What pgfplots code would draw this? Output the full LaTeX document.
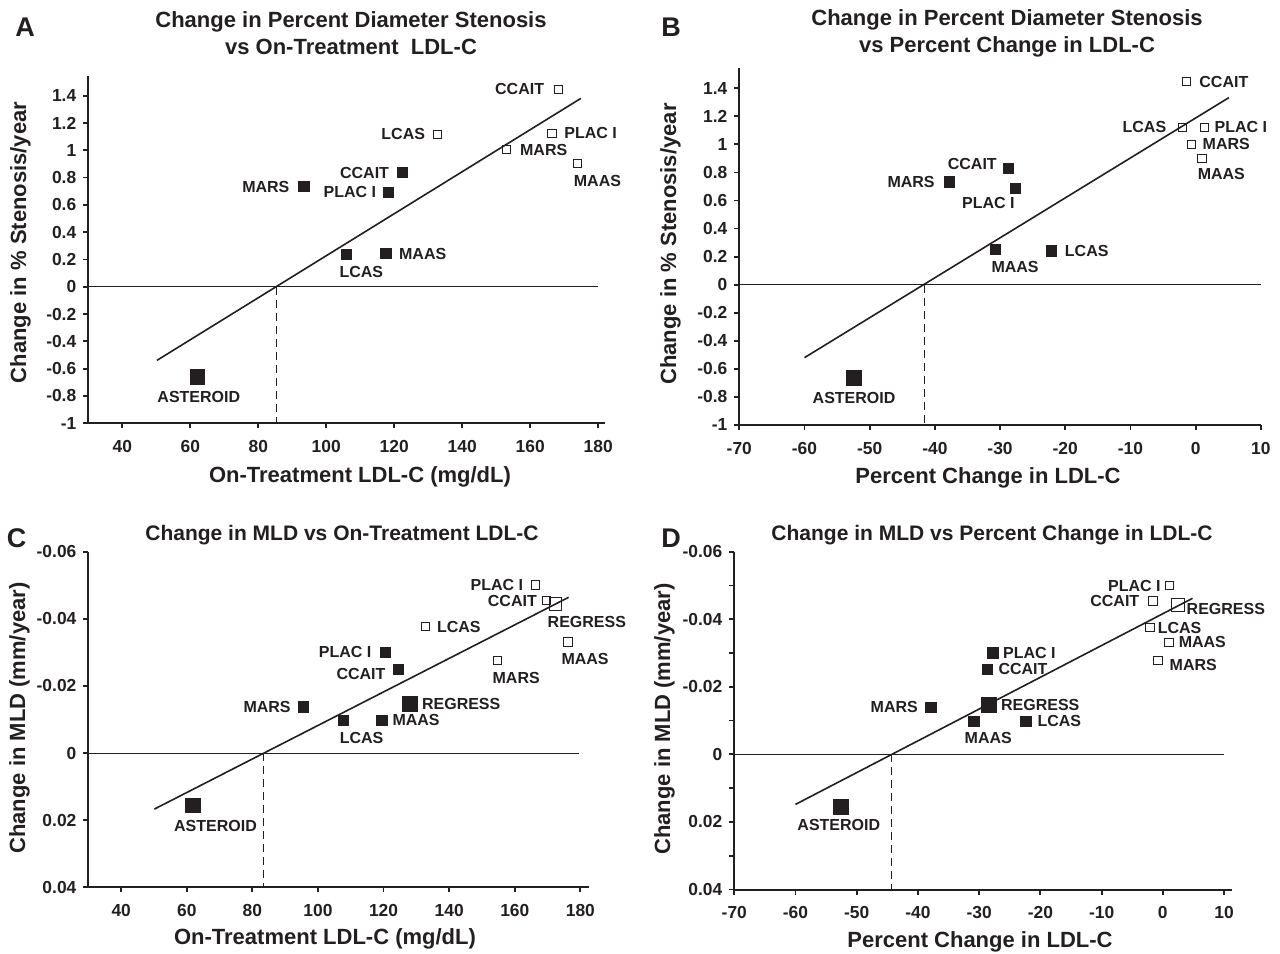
\documentclass[border=0pt]{standalone}
\usepackage{pgfplots}
\pgfplotsset{compat=1.18}
\usepackage{fontspec}
\setmainfont{Liberation Sans}
\definecolor{ink}{HTML}{231F20}

\pgfplotsset{
  panel/.style={
    scale only axis, anchor=south west, clip=false,
    axis x line*=bottom, axis y line*=left,
    axis line style={-, line width=1bp, ink},
    tick align=outside, major tick length=2.5bp, minor tick length=2.5bp,
    major tick style={line width=0.9bp, ink},
    minor tick style={line width=0.9bp, ink},
    scaled ticks=false,
    ticklabel style={font=\bfseries\fontsize{8.7bp}{10.4bp}\selectfont, text=ink},
    xticklabel style={yshift=-2.5bp},
  },
  op/.style={only marks, mark=square, mark size=2.1pt,
    mark options={draw=ink, fill=white, line width=0.5bp}},
  opbig/.style={only marks, mark=square, mark size=3.1pt,
    mark options={draw=ink, fill=white, line width=0.5bp}},
  fl/.style={only marks, mark=square*, mark size=2.6pt,
    mark options={draw=ink, fill=ink, line width=0.3bp}},
  flbig/.style={only marks, mark=square*, mark size=3.7pt,
    mark options={draw=ink, fill=ink, line width=0.3bp}},
  fitline/.style={no marks, ink, line width=0.8bp},
  zeroline/.style={no marks, ink, line width=0.5bp},
  dropline/.style={no marks, ink, line width=0.5bp, dash pattern=on 4bp off 2.5bp},
}
\tikzset{
  lbl/.style={font=\bfseries\fontsize{8bp}{9.6bp}\selectfont, text=ink, inner sep=0pt},
  ttl/.style={font=\bfseries\fontsize{11bp}{13.5bp}\selectfont, text=ink, align=center},
  alab/.style={font=\bfseries\fontsize{11bp}{13bp}\selectfont, text=ink},
  letter/.style={font=\bfseries\fontsize{13.5bp}{16bp}\selectfont, text=ink},
}

\begin{document}
\begin{tikzpicture}
\useasboundingbox (0,0) rectangle (640bp,477bp);

% ---------------- A ----------------
\begin{axis}[panel, at={(44.15bp,265.35bp)}, width=258.35bp, height=173.65bp,
  xmin=30, xmax=182, ymin=-1, ymax=1.544,
  xtick={40,60,80,100,120,140,160,180},
  xticklabels={40,60,80,100,120,140,160,180},
  ytick={-1,-0.8,-0.6,-0.4,-0.2,0,0.2,0.4,0.6,0.8,1,1.2,1.4},
  yticklabels={-1,-0.8,-0.6,-0.4,-0.2,0,0.2,0.4,0.6,0.8,1,1.2,1.4}]
  \addplot[zeroline] coordinates {(30,0) (180,0)};
  \addplot[dropline] coordinates {(85.5,0) (85.5,-1)};
  \addplot[fitline] coordinates {(50.2,-0.539) (174.9,1.38)};
  \addplot[op] coordinates {(168.3,1.446) (132.7,1.117) (166.4,1.124) (153.1,1.005) (173.9,0.905)};
  \addplot[fl] coordinates {(122.4,0.837) (93.4,0.734) (118.3,0.693) (105.9,0.238) (117.5,0.243)};
  \addplot[flbig] coordinates {(62.1,-0.66)};
  \node[lbl, anchor=east, xshift=-7bp] at (axis cs:168.3,1.446) {CCAIT};
  \node[lbl, anchor=east, xshift=-6bp] at (axis cs:132.7,1.117) {LCAS};
  \node[lbl, anchor=west, xshift=6bp] at (axis cs:166.4,1.124) {PLAC I};
  \node[lbl, anchor=west, xshift=6.5bp] at (axis cs:153.1,1.005) {MARS};
  \node[lbl, anchor=north, xshift=10bp, yshift=-5.8bp] at (axis cs:173.9,0.905) {MAAS};
  \node[lbl, anchor=east, xshift=-6.5bp] at (axis cs:122.4,0.837) {CCAIT};
  \node[lbl, anchor=east, xshift=-7bp] at (axis cs:93.4,0.734) {MARS};
  \node[lbl, anchor=east, xshift=-6bp] at (axis cs:118.3,0.693) {PLAC I};
  \node[lbl, anchor=north, xshift=7.5bp, yshift=-5.8bp] at (axis cs:105.9,0.238) {LCAS};
  \node[lbl, anchor=west, xshift=6.5bp] at (axis cs:117.5,0.243) {MAAS};
  \node[lbl, anchor=north, xshift=0.7bp, yshift=-7.2bp] at (axis cs:62.1,-0.66) {ASTEROID};
\end{axis}

% ---------------- B ----------------
\begin{axis}[panel, at={(369.65bp,264.5bp)}, width=260.75bp, height=178.4bp,
  xmin=-70, xmax=10, ymin=-1, ymax=1.543,
  xtick={-70,-60,-50,-40,-30,-20,-10,0,10},
  xticklabels={-70,-60,-50,-40,-30,-20,-10,0,10},
  ytick={-1,-0.8,-0.6,-0.4,-0.2,0,0.2,0.4,0.6,0.8,1,1.2,1.4},
  yticklabels={-1,-0.8,-0.6,-0.4,-0.2,0,0.2,0.4,0.6,0.8,1,1.2,1.4}]
  \addplot[zeroline] coordinates {(-70,0) (10,0)};
  \addplot[dropline] coordinates {(-41.6,0) (-41.6,-1)};
  \addplot[fitline] coordinates {(-60,-0.52) (5.1,1.333)};
  \addplot[op] coordinates {(-1.35,1.448) (-2.0,1.121) (1.33,1.121) (-0.6,1.0) (1.0,0.9)};
  \addplot[fl] coordinates {(-28.7,0.829) (-37.8,0.733) (-27.7,0.686) (-30.7,0.25) (-22.1,0.241)};
  \addplot[flbig] coordinates {(-52.4,-0.661)};
  \node[lbl, anchor=west, xshift=6.1bp] at (axis cs:-1.35,1.448) {CCAIT};
  \node[lbl, anchor=east, xshift=-8bp] at (axis cs:-2.0,1.121) {LCAS};
  \node[lbl, anchor=west, xshift=5bp] at (axis cs:1.33,1.121) {PLAC I};
  \node[lbl, anchor=west, xshift=5.3bp] at (axis cs:-0.6,1.0) {MARS};
  \node[lbl, anchor=north, xshift=9.6bp, yshift=-5bp] at (axis cs:1.0,0.9) {MAAS};
  \node[lbl, anchor=east, xshift=-5.7bp, yshift=2.2bp] at (axis cs:-28.7,0.829) {CCAIT};
  \node[lbl, anchor=east, xshift=-7.1bp] at (axis cs:-37.8,0.733) {MARS};
  \node[lbl, anchor=north east, xshift=0bp, yshift=-4.2bp] at (axis cs:-27.7,0.686) {PLAC I};
  \node[lbl, anchor=north, xshift=9.8bp, yshift=-5.8bp] at (axis cs:-30.7,0.25) {MAAS};
  \node[lbl, anchor=west, xshift=6.5bp] at (axis cs:-22.1,0.241) {LCAS};
  \node[lbl, anchor=north, yshift=-7.5bp] at (axis cs:-52.4,-0.661) {ASTEROID};
\end{axis}

% ---------------- C ----------------
\begin{axis}[panel, at={(44.2bp,33.35bp)}, width=250.25bp, height=167.8bp,
  xmin=30, xmax=182.6, ymin=-0.06, ymax=0.04, y dir=reverse,
  xtick={40,60,80,100,120,140,160,180},
  xticklabels={40,60,80,100,120,140,160,180},
  ytick={-0.06,-0.04,-0.02,0,0.02,0.04},
  yticklabels={-0.06,-0.04,-0.02,0,0.02,0.04}]
  \addplot[zeroline] coordinates {(30,0) (179.5,0)};
  \addplot[dropline] coordinates {(83.3,0) (83.3,0.04)};
  \addplot[fitline] coordinates {(50.1,0.0167) (176.4,-0.0464)};
  \addplot[op] coordinates {(166.4,-0.0501) (169.7,-0.0454) (132.7,-0.0377) (176.2,-0.0331) (154.7,-0.0276)};
  \addplot[opbig] coordinates {(172.4,-0.0444)};
  \addplot[fl] coordinates {(120.5,-0.03) (124.4,-0.025) (95.5,-0.0138) (107.8,-0.0098) (119.5,-0.0098)};
  \addplot[flbig] coordinates {(127.9,-0.0147) (61.8,0.0156)};
  \node[lbl, anchor=east, xshift=-6.1bp] at (axis cs:166.4,-0.0501) {PLAC I};
  \node[lbl, anchor=east, xshift=-4.7bp] at (axis cs:169.7,-0.0454) {CCAIT};
  \node[lbl, anchor=north, xshift=15.7bp, yshift=-5.8bp] at (axis cs:172.4,-0.0444) {REGRESS};
  \node[lbl, anchor=west, xshift=5.7bp] at (axis cs:132.7,-0.0377) {LCAS};
  \node[lbl, anchor=north, xshift=8.6bp, yshift=-5.5bp] at (axis cs:176.2,-0.0331) {MAAS};
  \node[lbl, anchor=north, xshift=9.4bp, yshift=-5.5bp] at (axis cs:154.7,-0.0276) {MARS};
  \node[lbl, anchor=east, xshift=-6.7bp] at (axis cs:120.5,-0.03) {PLAC I};
  \node[lbl, anchor=east, xshift=-6.1bp, yshift=-2.3bp] at (axis cs:124.4,-0.025) {CCAIT};
  \node[lbl, anchor=west, xshift=6.1bp] at (axis cs:127.9,-0.0147) {REGRESS};
  \node[lbl, anchor=east, xshift=-6.1bp] at (axis cs:95.5,-0.0138) {MARS};
  \node[lbl, anchor=north, xshift=9bp, yshift=-6bp] at (axis cs:107.8,-0.0098) {LCAS};
  \node[lbl, anchor=west, xshift=5.1bp] at (axis cs:119.5,-0.0098) {MAAS};
  \node[lbl, anchor=north, xshift=11.4bp, yshift=-7.2bp] at (axis cs:61.8,0.0156) {ASTEROID};
\end{axis}

% ---------------- D ----------------
\begin{axis}[panel, at={(367.15bp,32.25bp)}, width=248.85bp, height=168.9bp,
  xmin=-70, xmax=11.3, ymin=-0.06, ymax=0.04, y dir=reverse,
  xtick={-70,-60,-50,-40,-30,-20,-10,0,10},
  xticklabels={-70,-60,-50,-40,-30,-20,-10,0,10},
  ytick={-0.06,-0.04,-0.02,0,0.02,0.04},
  yticklabels={-0.06,-0.04,-0.02,0,0.02,0.04},
  minor ytick={-0.05,-0.03,-0.01,0.01,0.03}]
  \addplot[zeroline] coordinates {(-70,0) (10,0)};
  \addplot[dropline] coordinates {(-44.4,0) (-44.4,0.04)};
  \addplot[fitline] coordinates {(-60,0.0148) (4.85,-0.0462)};
  \addplot[op] coordinates {(1.05,-0.0499) (-1.6,-0.0454) (-2.1,-0.0375) (1.0,-0.0332) (-0.8,-0.0278)};
  \addplot[opbig] coordinates {(2.5,-0.0442)};
  \addplot[fl] coordinates {(-27.8,-0.0301) (-28.7,-0.0252) (-37.9,-0.014) (-30.9,-0.0098) (-22.4,-0.0098)};
  \addplot[flbig] coordinates {(-28.4,-0.0147) (-52.6,0.0155)};
  \node[lbl, anchor=east, xshift=-4.1bp] at (axis cs:1.05,-0.0499) {PLAC I};
  \node[lbl, anchor=east, xshift=-6.7bp] at (axis cs:-1.6,-0.0454) {CCAIT};
  \node[lbl, anchor=west, xshift=4.1bp, yshift=-2bp] at (axis cs:2.5,-0.0442) {REGRESS};
  \node[lbl, anchor=west, xshift=3.7bp] at (axis cs:-2.1,-0.0375) {LCAS};
  \node[lbl, anchor=west, xshift=4.7bp] at (axis cs:1.0,-0.0332) {MAAS};
  \node[lbl, anchor=west, xshift=5.7bp, yshift=-2.2bp] at (axis cs:-0.8,-0.0278) {MARS};
  \node[lbl, anchor=west, xshift=5.1bp] at (axis cs:-27.8,-0.0301) {PLAC I};
  \node[lbl, anchor=west, xshift=5.5bp] at (axis cs:-28.7,-0.0252) {CCAIT};
  \node[lbl, anchor=west, xshift=5.9bp] at (axis cs:-28.4,-0.0147) {REGRESS};
  \node[lbl, anchor=east, xshift=-6.3bp] at (axis cs:-37.9,-0.014) {MARS};
  \node[lbl, anchor=north, xshift=7.3bp, yshift=-5.5bp] at (axis cs:-30.9,-0.0098) {MAAS};
  \node[lbl, anchor=west, xshift=5.7bp] at (axis cs:-22.4,-0.0098) {LCAS};
  \node[lbl, anchor=north, xshift=-1bp, yshift=-6.2bp] at (axis cs:-52.6,0.0155) {ASTEROID};
\end{axis}

% ---------------- texts ----------------
\node[letter] at (12.5bp,463.5bp) {A};
\node[letter] at (335.5bp,463.5bp) {B};
\node[letter] at (8.3bp,208bp) {C};
\node[letter] at (335.5bp,208bp) {D};

\node[ttl] at (175.5bp,460.25bp) {Change in Percent Diameter Stenosis\\vs On-Treatment\ \ LDL-C};
\node[ttl] at (503.5bp,460.25bp) {Change in Percent Diameter Stenosis\\vs Percent Change in LDL-C};
\node[ttl, font=\bfseries\fontsize{10.5bp}{13bp}\selectfont] at (171bp,209.5bp) {Change in MLD vs On-Treatment LDL-C};
\node[ttl, font=\bfseries\fontsize{10.5bp}{13bp}\selectfont] at (496bp,209.5bp) {Change in MLD vs Percent Change in LDL-C};

\node[alab] at (180bp,238.7bp) {On-Treatment LDL-C (mg/dL)};
\node[alab] at (494bp,238bp) {Percent Change in LDL-C};
\node[alab] at (162.5bp,7.5bp) {On-Treatment LDL-C (mg/dL)};
\node[alab] at (490bp,6.2bp) {Percent Change in LDL-C};

\node[alab, rotate=90] at (10.2bp,355.75bp) {Change in \% Stenosis/year};
\node[alab, rotate=90] at (335.3bp,355bp) {Change in \% Stenosis/year};
\node[alab, rotate=90] at (9.8bp,118bp) {Change in MLD (mm/year)};
\node[alab, rotate=90] at (332.3bp,117.5bp) {Change in MLD (mm/year)};
\end{tikzpicture}
\end{document}
